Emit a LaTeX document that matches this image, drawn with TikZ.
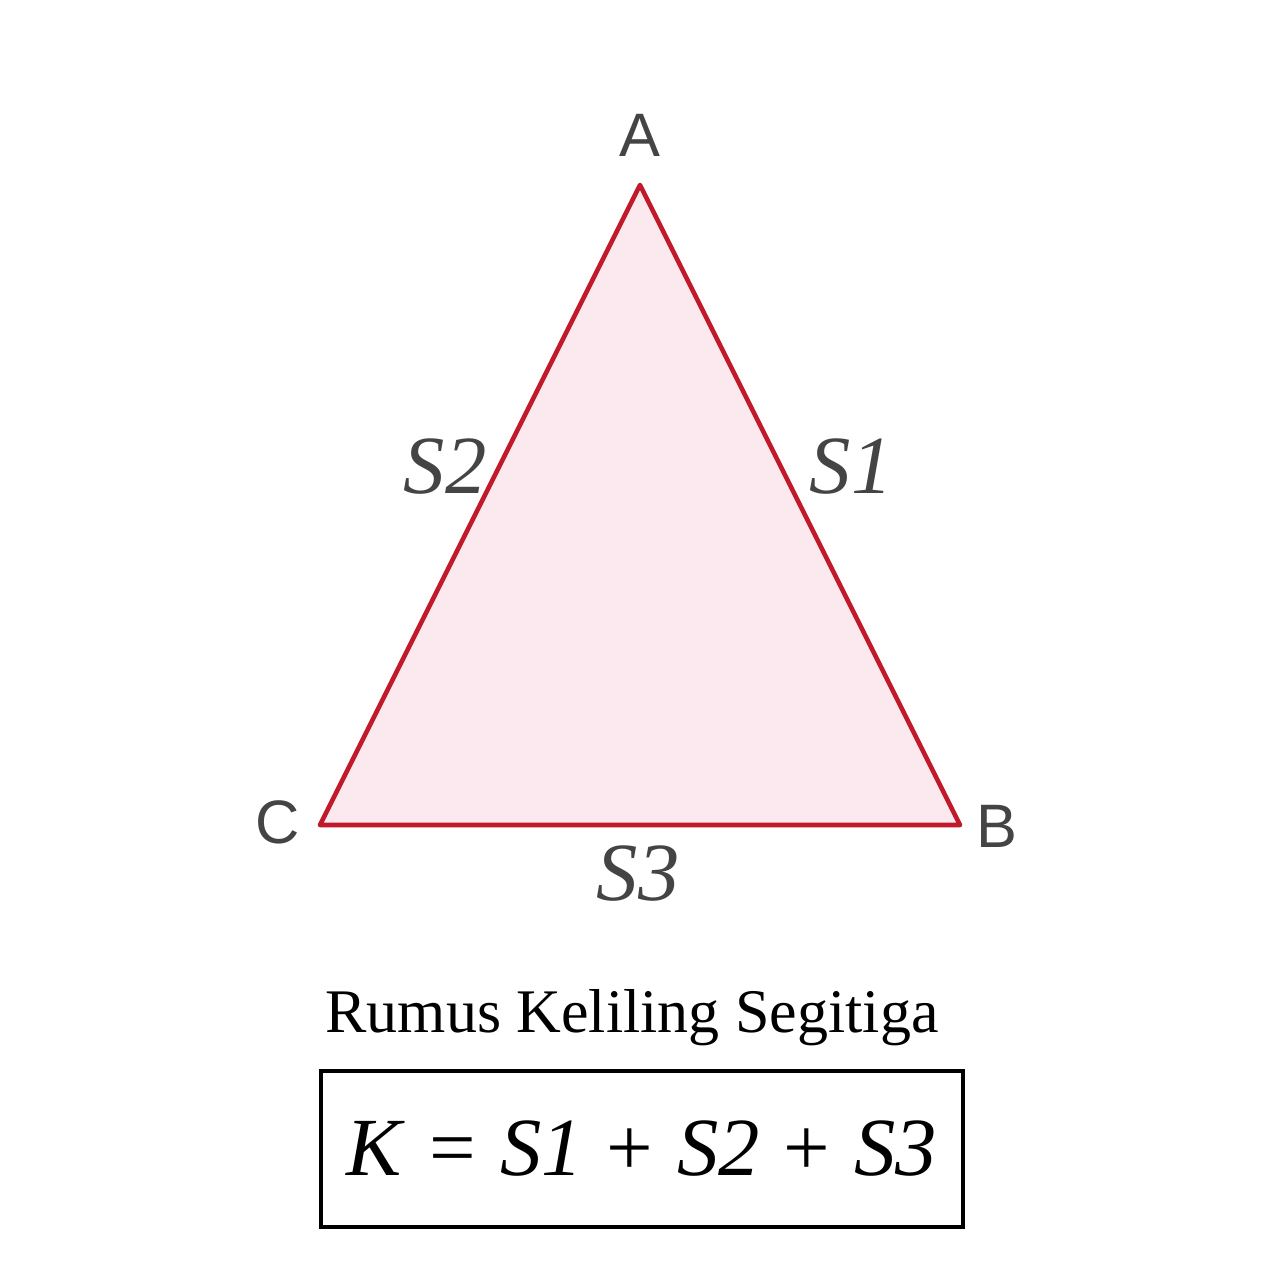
\documentclass[tikz,border=0pt]{standalone}
\usepackage{fontspec}
\setmainfont{Liberation Serif}
\newfontfamily\vertexfont{Liberation Sans}
\usepackage{xcolor}
\usetikzlibrary{positioning}

\definecolor{edgered}{HTML}{C0192A}
\definecolor{fillpink}{HTML}{FCE9F0}
\definecolor{labelgray}{HTML}{444444}

\newcommand{\gap}{\hspace{0.29em}}

\begin{document}
\begin{tikzpicture}[
  x=0.75pt, y=-0.75pt,
  tri/.style    = {draw=edgered, fill=fillpink, line width=3.5pt, line join=round},
  vertex/.style = {font=\vertexfont\fontsize{46}{50}\selectfont, text=labelgray, inner sep=0pt},
  side/.style   = {font=\itshape\fontsize{62}{66}\selectfont, text=labelgray, inner sep=0pt},
  title/.style  = {font=\fontsize{46.5}{50}\selectfont, inner sep=0pt},
  formula/.style= {draw, line width=3.2pt, minimum width=481pt, minimum height=117pt,
                   font=\fontsize{62}{66}\selectfont, inner sep=0pt},
]
\useasboundingbox[fill=white] (0,0) rectangle (1280,1280);

\coordinate (A) at (640,185);
\coordinate (B) at (960,825);
\coordinate (C) at (320,825);

\draw[tri] (A) -- (B) -- (C) -- cycle;

% vertex names
\node[vertex] (lA) at (640,135) {A};
\node[vertex] (lB) at (997,826) {B};
\node[vertex] (lC) at (278,822) {C};

% side names
\node[side] (s1) at (851,467) {S1};
\node[side] (s2) at (445,467) {S2};
\node[side] (s3) at (638,874) {S3};

\node[title] (ttl) at (632,1018) {Rumus Keliling Segitiga};
\node[formula] (rumus) at (642,1149)
  {\textit{K}\gap=\gap\textit{S1}\gap+\gap\textit{S2}\gap+\gap\textit{S3}\hspace{0.05em}};

\end{tikzpicture}
\end{document}
